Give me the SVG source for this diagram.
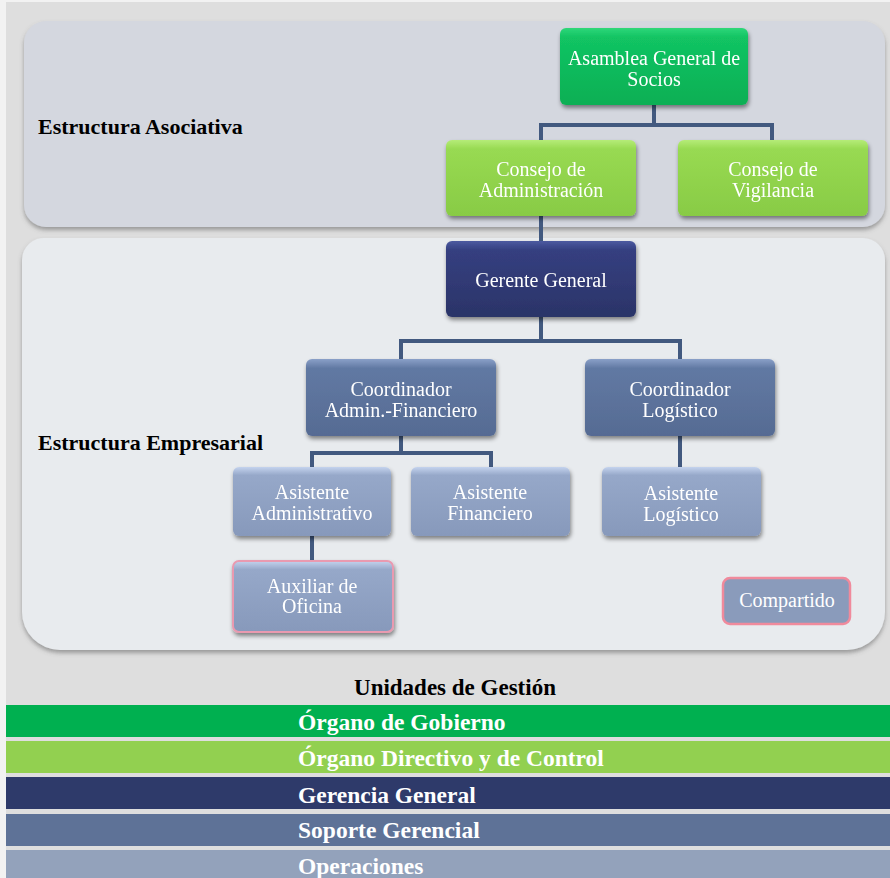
<svg xmlns="http://www.w3.org/2000/svg" width="890" height="878" viewBox="0 0 890 878">
<defs>
<style>
.nt{font-family:"Liberation Serif","Times New Roman",serif;font-size:20px;fill:#ffffff;text-anchor:middle}
.lbl{font-family:"Liberation Serif","Times New Roman",serif;font-size:22px;font-weight:bold;fill:#000000}
.leg{font-family:"Liberation Serif","Times New Roman",serif;font-size:23.5px;font-weight:bold;fill:#ffffff}
.con{fill:none;stroke:#42597f;stroke-width:4}
.nd{filter:url(#sh)}
</style>
<filter id="sh" x="-10%" y="-10%" width="125%" height="130%">
<feDropShadow dx="1" dy="3" stdDeviation="2" flood-color="#000" flood-opacity="0.45"/>
</filter>
<filter id="psh" x="-5%" y="-5%" width="110%" height="115%">
<feDropShadow dx="0" dy="3" stdDeviation="2" flood-color="#555" flood-opacity="0.5"/>
</filter>
<linearGradient id="gA" x1="0" y1="0" x2="0" y2="1"><stop offset="0" stop-color="#2fd77a"/><stop offset="0.12" stop-color="#12c463"/><stop offset="1" stop-color="#0aaf54"/></linearGradient>
<linearGradient id="gC" x1="0" y1="0" x2="0" y2="1"><stop offset="0" stop-color="#b5ec78"/><stop offset="0.12" stop-color="#98da52"/><stop offset="1" stop-color="#88cb45"/></linearGradient>
<linearGradient id="gG" x1="0" y1="0" x2="0" y2="1"><stop offset="0" stop-color="#4c5aa0"/><stop offset="0.12" stop-color="#353f80"/><stop offset="1" stop-color="#2b3468"/></linearGradient>
<linearGradient id="gK" x1="0" y1="0" x2="0" y2="1"><stop offset="0" stop-color="#8aa0c8"/><stop offset="0.12" stop-color="#6179a3"/><stop offset="1" stop-color="#566b93"/></linearGradient>
<linearGradient id="gS" x1="0" y1="0" x2="0" y2="1"><stop offset="0" stop-color="#c4d3ee"/><stop offset="0.12" stop-color="#96a8c9"/><stop offset="1" stop-color="#8799bb"/></linearGradient>
</defs>
<rect x="0" y="0" width="890" height="878" fill="#f2f2f2"/>
<rect x="6" y="2" width="884" height="876" fill="#dedede"/>
<g id="panel-asociativa">
<rect x="24" y="21" width="861" height="206" rx="22" fill="#d4d7df" filter="url(#psh)"/>
<text class="lbl" x="38" y="134">Estructura Asociativa</text>
</g>
<g id="panel-empresarial">
<path d="M46 238 H863 A22 22 0 0 1 885 260 V612 A38 38 0 0 1 847 650 H60 A38 38 0 0 1 22 612 V260 A22 22 0 0 1 46 238 Z" fill="#e8ebee" filter="url(#psh)"/>
<text class="lbl" x="38" y="450">Estructura Empresarial</text>
</g>
<g id="connectors">
<path class="con" d="M654 105 V125 H541 V140 M654 125 H772 V140"/>
<path class="con" d="M541 216 V241"/>
<path class="con" d="M541 317 V341 H401 V359 M541 341 H680 V359"/>
<path class="con" d="M401 436 V453 H312 V467 M401 453 H491 V467"/>
<path class="con" d="M680 436 V467"/>
<path class="con" d="M312 536 V560"/>
</g>
<g id="asamblea" class="nd">
<rect x="560" y="28" width="188" height="77" rx="6" fill="url(#gA)"/>
<text class="nt" x="654" y="65">Asamblea General de</text>
<text class="nt" x="654" y="86">Socios</text>
</g>
<g id="consejo-administracion" class="nd">
<rect x="446" y="140" width="190" height="76" rx="6" fill="url(#gC)"/>
<text class="nt" x="541" y="176">Consejo de</text>
<text class="nt" x="541" y="197">Administración</text>
</g>
<g id="consejo-vigilancia" class="nd">
<rect x="678" y="140" width="190" height="76" rx="6" fill="url(#gC)"/>
<text class="nt" x="773" y="176">Consejo de</text>
<text class="nt" x="773" y="197">Vigilancia</text>
</g>
<g id="gerente-general" class="nd">
<rect x="446" y="241" width="190" height="76" rx="6" fill="url(#gG)"/>
<text class="nt" x="541" y="287">Gerente General</text>
</g>
<g id="coord-admin-fin" class="nd">
<rect x="306" y="359" width="190" height="77" rx="6" fill="url(#gK)"/>
<text class="nt" x="401" y="396">Coordinador</text>
<text class="nt" x="401" y="417">Admin.-Financiero</text>
</g>
<g id="coord-logistico" class="nd">
<rect x="585" y="359" width="190" height="77" rx="6" fill="url(#gK)"/>
<text class="nt" x="680" y="396">Coordinador</text>
<text class="nt" x="680" y="417">Logístico</text>
</g>
<g id="asist-admin" class="nd">
<rect x="233" y="467" width="158" height="69" rx="6" fill="url(#gS)"/>
<text class="nt" x="312" y="499">Asistente</text>
<text class="nt" x="312" y="520">Administrativo</text>
</g>
<g id="asist-fin" class="nd">
<rect x="411" y="467" width="159" height="69" rx="6" fill="url(#gS)"/>
<text class="nt" x="490" y="499">Asistente</text>
<text class="nt" x="490" y="520">Financiero</text>
</g>
<g id="asist-log" class="nd">
<rect x="602" y="467" width="159" height="69" rx="6" fill="url(#gS)"/>
<text class="nt" x="681" y="500">Asistente</text>
<text class="nt" x="681" y="521">Logístico</text>
</g>
<g id="auxiliar-oficina" class="nd">
<rect x="233" y="561" width="160" height="71" rx="6" fill="url(#gS)" stroke="#e99ab0" stroke-width="2"/>
<text class="nt" x="312" y="593">Auxiliar de</text>
<text class="nt" x="312" y="613">Oficina</text>
</g>
<g id="compartido">
<rect x="723" y="578" width="127" height="46" rx="7" fill="#8a9bbb" stroke="#f08a9c" stroke-width="2.5"/>
<text class="nt" x="787" y="607" font-size="17">Compartido</text>
</g>
<g id="legend">
<text x="455" y="695" font-family="Liberation Serif, Times New Roman, serif" font-size="23" font-weight="bold" fill="#000" text-anchor="middle">Unidades de Gestión</text>
<rect x="6" y="705" width="884" height="32" fill="#00b050"/>
<text class="leg" x="298" y="730">Órgano de Gobierno</text>
<rect x="6" y="741" width="884" height="32" fill="#92d050"/>
<text class="leg" x="298" y="766">Órgano Directivo y de Control</text>
<rect x="6" y="777" width="884" height="32" fill="#2e3a6a"/>
<text class="leg" x="298" y="803">Gerencia General</text>
<rect x="6" y="814" width="884" height="32" fill="#5e7297"/>
<text class="leg" x="298" y="838">Soporte Gerencial</text>
<rect x="6" y="850" width="884" height="28" fill="#93a2bb"/>
<text class="leg" x="298" y="874">Operaciones</text>
</g>
</svg>
